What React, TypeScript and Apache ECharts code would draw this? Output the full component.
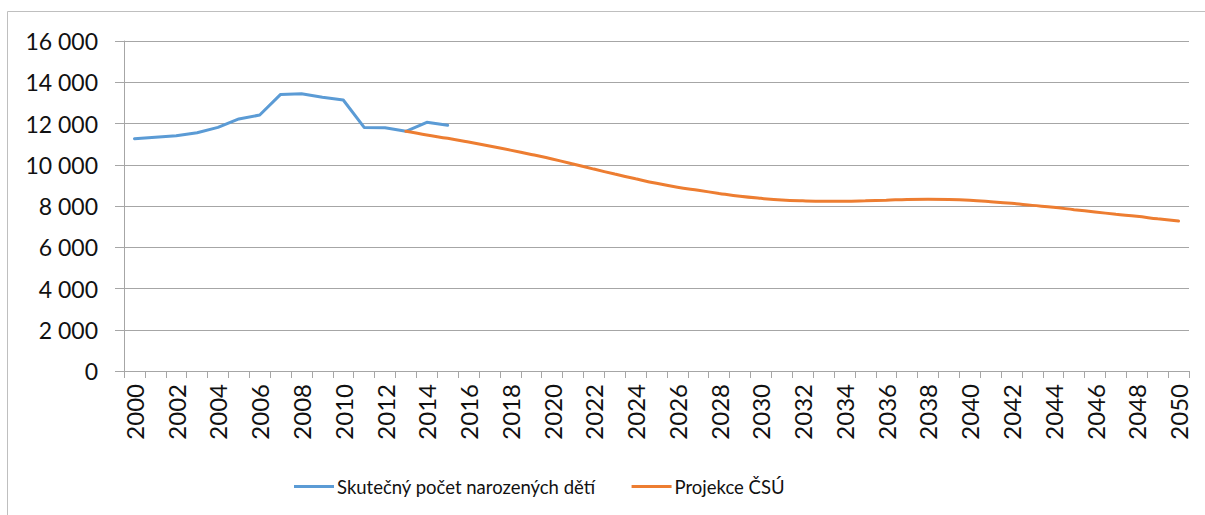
import React, { useEffect, useRef } from "react";
import * as echarts from "echarts";

const years: string[] = [];
for (let y = 2000; y <= 2050; y++) years.push(String(y));

// Skutečný počet narozených dětí (2000–2015)
const actualBirths: number[] = [
  11260, 11330, 11410, 11550, 11810, 12220, 12410, 13410, 13440, 13270,
  13140, 11810, 11790, 11620, 12060, 11910,
];

// Projekce ČSÚ (2013–2050)
const projection: number[] = [
  11620, 11440, 11280, 11100, 10910, 10710, 10500, 10280, 10040, 9790,
  9550, 9320, 9100, 8910, 8760, 8610, 8470, 8370, 8290, 8250,
  8230, 8230, 8250, 8280, 8320, 8330, 8320, 8280, 8210, 8130,
  8030, 7940, 7820, 7710, 7600, 7500, 7380, 7270,
];
const projectionStartYear = 2013;

const yTicksMax = 16000;
const yTickStep = 2000;

const seriesNames = ["Skutečný počet narozených dětí", "Projekce ČSÚ"];

export default function App() {
  const ref = useRef<HTMLDivElement>(null);
  useEffect(() => {
    if (!ref.current) return;
    const chart = echarts.init(ref.current, null, { renderer: "svg" });
    const blueData = years.map((_, i) => (i < actualBirths.length ? actualBirths[i] : null));
    const offset = projectionStartYear - 2000;
    const orangeData = years.map((_, i) =>
      i >= offset && i - offset < projection.length ? projection[i - offset] : null
    );
    const fmt = (v: number) => String(v).replace(/\B(?=(\d{3})+(?!\d))/g, " ");
    chart.setOption({
      animation: false,
      backgroundColor: "#ffffff",
      textStyle: { fontFamily: "Lato" },
      graphic: [
        {
          type: "rect",
          shape: { x: 7.5, y: 11.5, width: 1300, height: 700 },
          style: { fill: "none", stroke: "#BFBFBF", lineWidth: 1 },
          z: -1,
        },
      ],
      grid: { left: 124, right: 16, top: 41, bottom: 144 },
      legend: {
        left: 289,
        top: 472,
        icon: "rect",
        itemWidth: 40,
        itemHeight: 3,
        itemGap: 36,
        textStyle: { fontFamily: "Lato", fontSize: 18.5, color: "#111", padding: [0, 0, 0, -2] },
        data: seriesNames,
      },
      xAxis: {
        type: "category",
        data: years,
        boundaryGap: true,
        axisLine: { lineStyle: { color: "#A6A6A6", width: 1 } },
        axisTick: { show: true, length: 7, interval: 0, lineStyle: { color: "#A6A6A6" } },
        axisLabel: {
          interval: 1,
          rotate: 90,
          margin: 13,
          fontFamily: "Lato",
          fontSize: 24,
          color: "#111",
        },
        splitLine: { show: false },
      },
      yAxis: {
        type: "value",
        min: 0,
        max: yTicksMax,
        interval: yTickStep,
        axisLine: { show: true, lineStyle: { color: "#A6A6A6", width: 1 } },
        axisTick: { show: true, length: 9, lineStyle: { color: "#A6A6A6" } },
        axisLabel: {
          margin: 26,
          fontFamily: "Lato",
          fontSize: 23,
          color: "#111",
          formatter: (v: number) => fmt(v),
        },
        splitLine: { show: true, lineStyle: { color: "#A6A6A6", width: 1 } },
      },
      series: [
        {
          name: seriesNames[0],
          type: "line",
          data: blueData,
          showSymbol: false,
          symbol: "none",
          lineStyle: { color: "#5B9BD5", width: 3, cap: "round", join: "round" },
          itemStyle: { color: "#5B9BD5" },
          connectNulls: false,
          z: 3,
        },
        {
          name: seriesNames[1],
          type: "line",
          data: orangeData,
          showSymbol: false,
          symbol: "none",
          smooth: 0.4,
          lineStyle: { color: "#ED7D31", width: 3, cap: "round" },
          itemStyle: { color: "#ED7D31" },
          z: 4,
        },
      ],
    });
    return () => chart.dispose();
  }, []);
  return (
    <div
      ref={ref}
      style={{ position: "fixed", left: 0, top: 0, width: 1205, height: 515 }}
    />
  );
}
